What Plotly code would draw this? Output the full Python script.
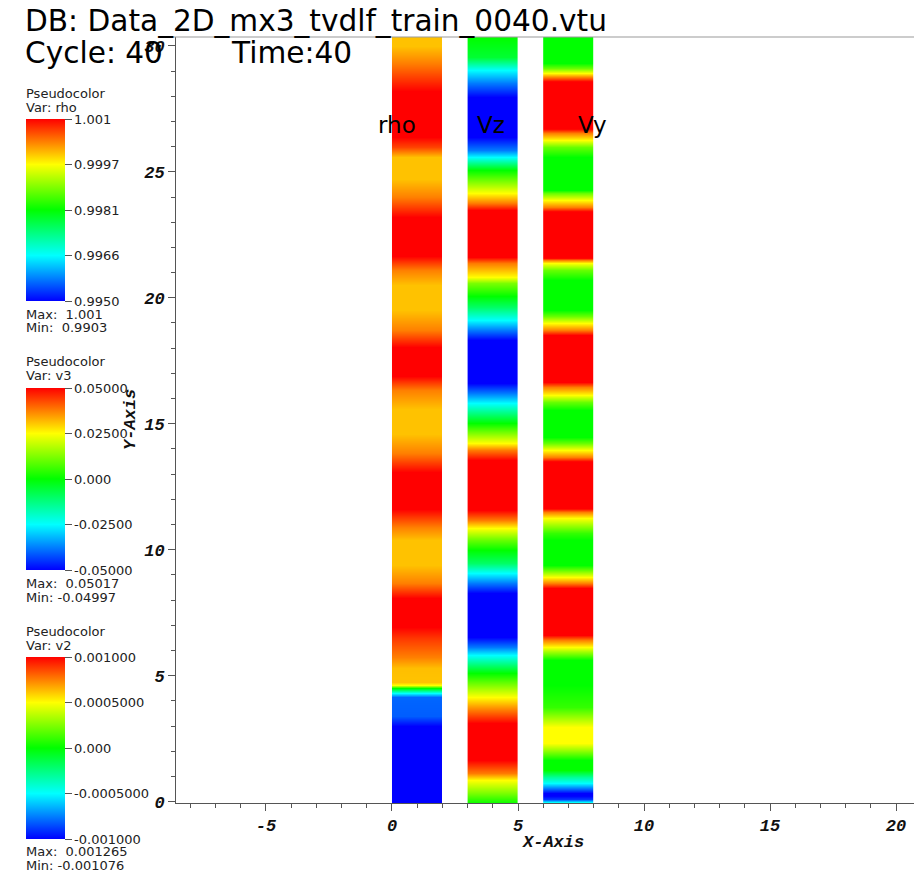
import plotly.graph_objects as go

# ---------------- data ----------------
# rho strip (x 0..2): value profile along y
rho_y = [0.00, 2.50, 3.00, 3.40, 4.15, 4.33, 4.52, 4.64, 4.75, 5.30, 5.75, 6.45, 6.95, 8.10, 8.70,
         9.40, 10.40, 10.90, 11.60, 13.10, 13.85, 14.60, 15.60, 16.35, 16.90, 18.05, 18.73, 19.50,
         20.50, 21.10, 21.65, 23.20, 24.00, 24.70, 25.60, 26.00, 26.40, 28.20, 29.30, 30.00, 30.60]
rho_v = [0.9903, 0.9915, 0.9950, 0.99555, 0.99560, 0.99650, 0.99800, 0.99950, 0.99985, 0.99988,
         1.00025, 1.00065, 1.00100, 1.00100, 1.00025, 0.99986, 0.99986, 1.00025, 1.00100, 1.00100,
         1.00025, 0.99986, 0.99986, 1.00025, 1.00100, 1.00100, 1.00025, 0.99986, 0.99986, 1.00025,
         1.00100, 1.00100, 1.00025, 0.99986, 0.99986, 1.00060, 1.00100, 1.00100, 1.00025, 0.99986,
         0.99986]

# Vz strip (x 3..5)
vz_y = [0.00, 0.36, 0.87, 1.15, 1.67, 3.13, 3.65, 4.17, 5.12, 5.83, 6.15, 6.55, 8.29, 8.69, 9.09,
        9.48, 10.00, 10.40, 10.87, 11.19, 11.59, 13.57, 13.97, 14.25, 15.04, 15.83, 16.23, 16.63,
        18.33, 18.73, 19.13, 19.64, 20.08, 20.60, 20.83, 21.39, 21.63, 23.49, 23.77, 24.17, 25.08,
        25.60, 25.87, 26.39, 27.98, 28.53, 29.05, 29.56, 30.32, 30.60]
vz_v = [0.002, 0.012, 0.025, 0.038, 0.050, 0.050, 0.038, 0.025, 0.000, -0.025, -0.038, -0.050,
        -0.050, -0.038, -0.025, -0.010, 0.000, 0.010, 0.025, 0.038, 0.050, 0.050, 0.038, 0.025,
        0.000, -0.025, -0.038, -0.050, -0.050, -0.038, -0.025, -0.010, 0.000, 0.012, 0.025, 0.038,
        0.050, 0.050, 0.038, 0.025, 0.000, -0.025, -0.038, -0.050, -0.050, -0.038, -0.025, -0.005,
        0.000, 0.005]

# Vy strip (x 6..8)
vy_y = [0.00, 0.12, 0.32, 0.52, 0.75, 0.99, 1.27, 1.67, 2.06, 2.34, 2.98, 3.37, 3.77, 4.64, 5.63,
        5.95, 6.15, 6.43, 6.71, 8.41, 8.69, 8.93, 9.21, 9.40, 10.40, 10.67, 11.27, 11.51, 11.71,
        13.45, 13.69, 13.97, 14.25, 14.48, 15.56, 15.87, 16.15, 16.47, 16.75, 18.45, 18.73, 19.01,
        19.29, 19.52, 20.71, 21.11, 21.39, 21.51, 21.63, 23.37, 23.61, 23.89, 24.17, 24.29, 25.60,
        25.99, 26.27, 26.55, 26.79, 28.53, 28.77, 28.93, 29.13, 29.33, 30.63]
vy_v = [-0.0005, -0.0009, -0.00105, -0.0008, -0.0005, -0.0003, 0.0, 0.0, 0.0003, 0.0005, 0.0005,
        0.0003, 0.0001, 0.0, 0.0, 0.0003, 0.0005, 0.00075, 0.0011, 0.0011, 0.00075, 0.0005, 0.0002,
        0.0, 0.0, 0.0001, 0.0005, 0.00075, 0.0011, 0.0011, 0.00075, 0.0005, 0.0002, 0.0, 0.0,
        0.0002, 0.0005, 0.00075, 0.0011, 0.0011, 0.00075, 0.0005, 0.0002, 0.0, 0.0, 0.0002, 0.0005,
        0.00075, 0.0011, 0.0011, 0.00075, 0.0005, 0.0002, 0.0, 0.0, 0.0002, 0.0005, 0.00075, 0.0011,
        0.0011, 0.00075, 0.0005, 0.0002, 0.0, 0.0]

strip_names = ["rho", "Vz", "Vy"]
strip_x0 = [0, 3, 6]
strip_label_x = [0.2, 3.93, 7.95]

legend_vars = ["rho", "v3", "v2"]
legend_min = [0.995, -0.05, -0.001]
legend_max = [1.001, 0.05, 0.001]
legend_ticks = [["0.9950", "0.9966", "0.9981", "0.9997", "1.001"],
                ["-0.05000", "-0.02500", "0.000", "0.02500", "0.05000"],
                ["-0.001000", "-0.0005000", "0.000", "0.0005000", "0.001000"]]
legend_maxtxt = ["1.001", "0.05017", "0.001265"]
legend_mintxt = ["0.9903", "-0.04997", "-0.001076"]

x_ticks = [-5, 0, 5, 10, 15, 20]
x_ticktext = ["-5", "0", "5", "10", "15", "20"]
y_ticks = [0, 5, 10, 15, 20, 25, 30]
y_ticktext = ["0", "5", "10", "15", "20", "25", "30"]

# ---------------- layout constants ----------------
OFF = 8                      # page body margin of the html page
W, H = 922 - OFF, 875 - OFF
ML, MR, MT, MB = 176 - OFF, 0, 37 - OFF, 72
PW, PH = W - ML - MR, H - MT - MB

def fx(px):   # screen px -> paper x
    return (px - OFF - ML) / PW

def fy(py):   # screen py -> paper y
    return (H - MB - (py - OFF)) / PH

SANS = "DejaVu Sans"
MONO = "Liberation Mono"
colorscale = [[0, "#0000ff"], [0.25, "#00ffff"], [0.5, "#00ff00"], [0.75, "#ffff00"], [1, "#ff0000"]]

bar_tops = [119, 388, 657]
title_rows = [(93, 107, 314, 328), (361, 375, 583, 597), (631, 645, 851, 866)]

fig = go.Figure()
profiles = [(rho_y, rho_v), (vz_y, vz_v), (vy_y, vy_v)]
for i, (yy, vv) in enumerate(profiles):
    x0 = strip_x0[i]
    tv = [legend_min[i] + k * (legend_max[i] - legend_min[i]) / 4 for k in range(5)]
    fig.add_trace(go.Heatmap(
        x=[x0 + 0.5, x0 + 1.5], y=yy, z=[[v, v] for v in vv],
        zmin=legend_min[i], zmax=legend_max[i], colorscale=colorscale,
        zsmooth="best", hoverinfo="skip",
        colorbar=dict(
            xref="container", yref="paper",
            x=(26 - OFF) / W, xanchor="left", y=fy(bar_tops[i]), yanchor="top",
            lenmode="pixels", len=182, thicknessmode="pixels", thickness=39,
            xpad=0, ypad=0, outlinewidth=0, borderwidth=0,
            tickmode="array", tickvals=tv, ticktext=legend_ticks[i],
            ticks="outside", ticklen=7, tickcolor="#555", tickwidth=1,
            tickfont=dict(family=SANS, size=13, color="#222"),
        ),
    ))

annotations = []
for i, nm in enumerate(strip_names):
    annotations.append(dict(x=strip_label_x[i], y=26.87, xref="x", yref="y", text=nm,
                            showarrow=False, font=dict(family=SANS, size=23, color="#000")))

for i in range(3):
    r = title_rows[i]
    texts = ["Pseudocolor", "Var: " + legend_vars[i],
             "Max:  " + legend_maxtxt[i],
             "Min: " + ("" if legend_mintxt[i].startswith("-") else " ") + legend_mintxt[i]]
    for t, py in zip(texts, r):
        annotations.append(dict(x=fx(24), y=fy(py), xref="paper", yref="paper", text=t,
                                showarrow=False, xanchor="left", yanchor="middle",
                                font=dict(family=SANS, size=13, color="#222")))

big = dict(family=SANS, size=29.6, color="#000")
annotations.append(dict(x=fx(23), y=fy(21), xref="paper", yref="paper",
                        text="DB: Data_2D_mx3_tvdlf_train_0040.vtu", showarrow=False,
                        xanchor="left", yanchor="middle", font=big))
annotations.append(dict(x=fx(23), y=fy(53), xref="paper", yref="paper",
                        text="Cycle: 40", showarrow=False,
                        xanchor="left", yanchor="middle", font=big))
annotations.append(dict(x=fx(229), y=fy(53), xref="paper", yref="paper",
                        text="Time:40", showarrow=False,
                        xanchor="left", yanchor="middle", font=big))

axfont = dict(family=MONO, size=17, color="#111", weight="bold", style="italic")
annotations.append(dict(x=fx(553), y=fy(842), xref="paper", yref="paper", text="X-Axis",
                        showarrow=False, xanchor="center", yanchor="middle", font=axfont))
annotations.append(dict(x=fx(130), y=fy(420), xref="paper", yref="paper", text="Y-Axis",
                        showarrow=False, xanchor="center", yanchor="middle", textangle=-90,
                        font=axfont))

tickfont = dict(family=MONO, size=17, color="#111", weight="bold", style="italic")
minor = dict(tickmode="linear", tick0=0, dtick=1, ticks="outside", ticklen=4, tickcolor="#555",
             tickwidth=1, showgrid=False)

fig.update_layout(
    width=W, height=H, autosize=False,
    margin=dict(l=ML, r=MR, t=MT, b=MB, pad=0, autoexpand=False),
    paper_bgcolor="white", plot_bgcolor="white",
    showlegend=False,
    annotations=annotations,
    xaxis=dict(range=[-8.57, 21.03], tickmode="array", tickvals=x_ticks, ticktext=x_ticktext,
               ticks="outside", ticklen=7, tickcolor="#555", tickwidth=1,
               showline=True, linecolor="#555", linewidth=1, showgrid=False, zeroline=False,
               tickfont=tickfont, minor=minor, automargin=False),
    yaxis=dict(range=[-0.05, 30.35], tickmode="array", tickvals=y_ticks, ticktext=y_ticktext,
               ticks="outside", ticklen=7, tickcolor="#555", tickwidth=1,
               showline=True, linecolor="#555", linewidth=1, showgrid=False, zeroline=False,
               tickfont=tickfont, minor=minor, automargin=False),
    shapes=[dict(type="line", xref="paper", yref="paper", x0=-0.01, x1=1, y0=1, y1=1,
                 line=dict(color="#999", width=1))],
)

fig.write_html("out.html", config={"displayModeBar": False})
